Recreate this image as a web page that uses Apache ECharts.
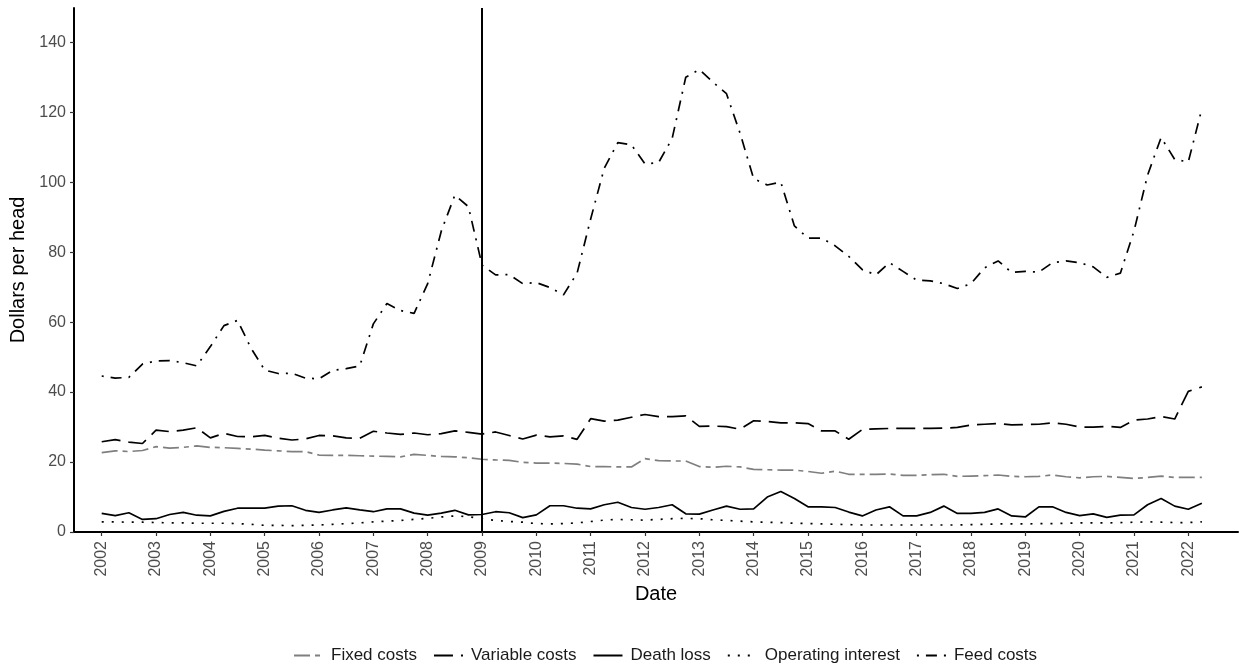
<!DOCTYPE html>
<html>
<head>
<meta charset="utf-8">
<title>Cost components per head</title>
<script src="https://cdn.jsdelivr.net/npm/echarts@6/dist/echarts.min.js"></script>
<style>
html, body { margin: 0; padding: 0; background: #fff; }
#main { width: 1240px; height: 667px; }
</style>
</head>
<body>
<div id="main"></div>
<script>
// quarterly observations, decimal years
var dates = [
	2002, 2002.25, 2002.5, 2002.75, 2003, 2003.25, 2003.5, 2003.75,
	2004, 2004.25, 2004.5, 2004.75, 2005, 2005.25, 2005.5, 2005.75,
	2006, 2006.25, 2006.5, 2006.75, 2007, 2007.25, 2007.5, 2007.75,
	2008, 2008.25, 2008.5, 2008.75, 2009, 2009.25, 2009.5, 2009.75,
	2010, 2010.25, 2010.5, 2010.75, 2011, 2011.25, 2011.5, 2011.75,
	2012, 2012.25, 2012.5, 2012.75, 2013, 2013.25, 2013.5, 2013.75,
	2014, 2014.25, 2014.5, 2014.75, 2015, 2015.25, 2015.5, 2015.75,
	2016, 2016.25, 2016.5, 2016.75, 2017, 2017.25, 2017.5, 2017.75,
	2018, 2018.25, 2018.5, 2018.75, 2019, 2019.25, 2019.5, 2019.75,
	2020, 2020.25, 2020.5, 2020.75, 2021, 2021.25, 2021.5, 2021.75,
	2022, 2022.25
];

var fixedCosts = [
	22.7, 23.2, 23.0, 23.3, 24.4, 24.0, 24.2, 24.6,
	24.2, 24.1, 23.9, 23.7, 23.4, 23.2, 23.0, 23.0,
	22.0, 21.9, 21.9, 21.8, 21.7, 21.6, 21.5, 22.2,
	21.9, 21.6, 21.5, 21.2, 20.8, 20.6, 20.5, 19.9,
	19.7, 19.7, 19.6, 19.4, 18.7, 18.7, 18.6, 18.6,
	21.0, 20.4, 20.3, 20.3, 18.7, 18.5, 18.8, 18.6,
	17.9, 17.8, 17.7, 17.7, 17.3, 16.8, 17.4, 16.5,
	16.5, 16.5, 16.6, 16.2, 16.2, 16.4, 16.5, 15.9,
	16.0, 16.1, 16.3, 15.9, 15.8, 15.9, 16.3, 15.8,
	15.5, 15.8, 15.9, 15.6, 15.3, 15.6, 16.0, 15.6,
	15.6, 15.6
];

var variableCosts = [
	25.8, 26.4, 25.7, 25.3, 29.1, 28.7, 29.1, 29.8,
	26.9, 28.2, 27.3, 27.2, 27.6, 26.8, 26.3, 26.6,
	27.6, 27.5, 26.9, 26.8, 28.8, 28.3, 27.9, 28.3,
	27.8, 28.1, 28.9, 28.5, 28.0, 28.6, 27.6, 26.6,
	27.7, 27.2, 27.5, 26.5, 32.4, 31.7, 32.0, 32.8,
	33.6, 33.0, 33.0, 33.2, 30.2, 30.3, 30.1, 29.4,
	31.8, 31.6, 31.2, 31.2, 31.0, 28.9, 28.9, 26.5,
	29.3, 29.5, 29.6, 29.6, 29.6, 29.6, 29.7, 29.9,
	30.6, 30.8, 31.0, 30.6, 30.7, 30.8, 31.2, 30.8,
	30.0, 30.0, 30.2, 29.9, 32.0, 32.3, 33.0, 32.3,
	40.2, 41.5
];

var deathLoss = [
	5.3, 4.7, 5.5, 3.6, 3.8, 5.0, 5.6, 4.8,
	4.6, 5.9, 6.8, 6.8, 6.8, 7.4, 7.5, 6.2,
	5.6, 6.3, 6.9, 6.3, 5.8, 6.6, 6.6, 5.4,
	4.8, 5.4, 6.2, 4.9, 5.0, 5.8, 5.5, 4.1,
	4.9, 7.5, 7.5, 6.8, 6.6, 7.8, 8.5, 7.0,
	6.5, 7.0, 7.8, 5.2, 5.1, 6.3, 7.4, 6.5,
	6.6, 10.0, 11.6, 9.6, 7.2, 7.2, 7.0, 5.7,
	4.6, 6.3, 7.2, 4.6, 4.6, 5.6, 7.4, 5.3,
	5.3, 5.6, 6.6, 4.6, 4.3, 7.2, 7.2, 5.6,
	4.7, 5.2, 4.2, 4.8, 4.9, 7.8, 9.6, 7.4,
	6.5, 8.2
];

var operatingInterest = [
	2.9, 2.9, 2.8, 2.8, 2.7, 2.6, 2.6, 2.5,
	2.5, 2.5, 2.4, 2.2, 1.9, 1.9, 1.8, 1.9,
	2.0, 2.2, 2.4, 2.6, 2.9, 3.1, 3.3, 3.6,
	3.9, 4.3, 4.6, 4.4, 3.8, 3.3, 3.0, 2.8,
	2.4, 2.3, 2.4, 2.6, 3.0, 3.4, 3.6, 3.5,
	3.4, 3.6, 3.8, 3.9, 3.8, 3.5, 3.3, 3.1,
	2.9, 2.8, 2.7, 2.5, 2.4, 2.3, 2.2, 2.1,
	2.0, 2.0, 2.0, 2.0, 2.0, 2.0, 2.0, 2.0,
	2.1, 2.2, 2.3, 2.3, 2.3, 2.4, 2.4, 2.5,
	2.6, 2.6, 2.6, 2.7, 2.8, 2.9, 2.8, 2.7,
	2.7, 2.9
];

var feedCosts = [
	44.6, 44.0, 44.2, 48.0, 48.9, 49.0, 48.4, 47.5,
	53.0, 59.0, 60.5, 52.5, 46.3, 45.3, 45.4, 44.0,
	43.8, 46.2, 46.7, 47.5, 59.5, 65.3, 63.3, 62.5,
	71.0, 86.0, 96.3, 93.0, 76.3, 73.5, 73.6, 71.0,
	71.3, 69.9, 67.8, 74.0, 89.5, 104.0, 111.3, 110.7,
	105.2, 105.6, 112.5, 130.0, 132.2, 128.6, 125.3, 114.0,
	101.0, 99.2, 100.0, 87.5, 84.0, 84.0, 81.8, 78.8,
	75.0, 73.5, 77.0, 74.5, 72.0, 71.8, 71.0, 69.6,
	71.0, 75.5, 77.5, 74.2, 74.5, 74.3, 77.0, 77.5,
	77.0, 75.8, 72.8, 74.0, 86.0, 102.0, 112.8, 106.5,
	105.8, 121.0
];

var yearTicks = [2002, 2003, 2004, 2005, 2006, 2007, 2008, 2009, 2010, 2011, 2012,
	2013, 2014, 2015, 2016, 2017, 2018, 2019, 2020, 2021, 2022];
var valueTicks = [0, 20, 40, 60, 80, 100, 120, 140];
var breakYear = 2009;

function pairs(vals){
	var out = [];
	for (var i = 0; i < dates.length; i++) {
		out.push([dates[i], vals[i]]);
	}
	return out;
}

function lineSeries(name, vals, color, dash){
	return {
		name : name,
		type : 'line',
		symbol : 'none',
		smooth : false,
		animation : false,
		data : pairs(vals),
		lineStyle : {
			color : color,
			width : 1.7,
			type : dash,
			cap : 'butt'
		},
		itemStyle : { color : color }
	};
}

function draw(){
	var myChart = echarts.init(document.getElementById('main'));
	var font = 'Liberation Sans, Arial, Helvetica, sans-serif';
	var series = [
		lineSeries('Fixed costs', fixedCosts, '#7f7f7f', [16, 5, 5, 5]),
		lineSeries('Variable costs', variableCosts, '#000000', [19, 8]),
		lineSeries('Death loss', deathLoss, '#000000', 'solid'),
		lineSeries('Operating interest', operatingInterest, '#000000', [2, 8]),
		lineSeries('Feed costs', feedCosts, '#000000', [2, 7, 11, 7])
	];
	/**
	 * vertical reference line
	 */
	series[0].markLine = {
		silent : true,
		symbol : 'none',
		label : { show : false },
		lineStyle : { color : '#000', width : 2, type : 'solid' },
		data : [ { xAxis : breakYear } ]
	};

	var option = {
		backgroundColor : '#fff',
		textStyle : { fontFamily : font },
		grid : {
			left : 74,
			right : 2,
			top : 8,
			bottom : 135,
			containLabel : false
		},
		legend : {
			left : 288,
			top : 642,
			itemWidth : 29,
			itemHeight : 14,
			itemGap : 16,
			itemStyle : { opacity : 0 },
			textStyle : {
				fontSize : 17,
				color : '#1a1a1a',
				padding : [0, 0, 0, 3]
			},
			data : ['Fixed costs', 'Variable costs', 'Death loss', 'Operating interest', 'Feed costs']
		},
		xAxis : {
			type : 'value',
			min : 2001.49,
			max : 2022.915,
			name : 'Date',
			nameLocation : 'middle',
			nameGap : 52,
			nameTextStyle : { fontSize : 20, color : '#000' },
			axisLine : { show : true, lineStyle : { color : '#000', width : 2 } },
			axisTick : {
				show : true,
				length : 4,
				lineStyle : { color : '#333', width : 1.2 },
				customValues : yearTicks
			},
			axisLabel : {
				rotate : 90,
				fontSize : 16,
				color : '#4d4d4d',
				margin : 9,
				customValues : yearTicks,
				formatter : function(v){ return String(Math.round(v)); }
			},
			splitLine : { show : false }
		},
		yAxis : {
			type : 'value',
			min : 0,
			max : 149.8,
			name : 'Dollars per head',
			nameLocation : 'middle',
			nameGap : 44,
			nameTextStyle : { fontSize : 20, color : '#000' },
			axisLine : { show : true, lineStyle : { color : '#000', width : 2 } },
			axisTick : {
				show : true,
				length : 4,
				lineStyle : { color : '#333', width : 1.2 },
				customValues : valueTicks
			},
			axisLabel : {
				fontSize : 16,
				color : '#4d4d4d',
				margin : 8,
				customValues : valueTicks
			},
			splitLine : { show : false }
		},
		series : series
	};
	myChart.setOption(option);
}

draw();
</script>
</body>
</html>
